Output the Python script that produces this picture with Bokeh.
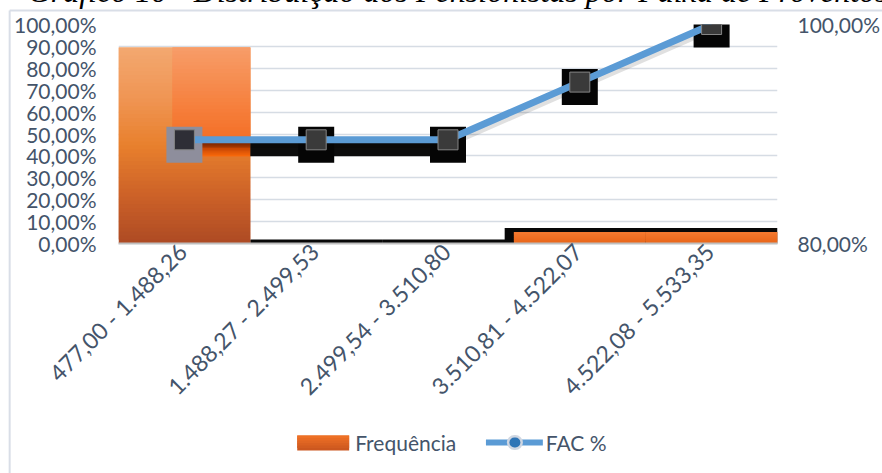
import math
from bokeh.plotting import figure
from bokeh.models import Range1d, LinearAxis, FixedTicker, ColumnDataSource
from bokeh.core.properties import value
from bokeh.embed import file_html
from bokeh.resources import INLINE

# ---------------- data ----------------
title_text = "Gráfico 10 - Distribuição dos Pensionistas por Faixa de Proventos"
categories = ["477,00 - 1.488,26", "1.488,27 - 2.499,53", "2.499,54 - 3.510,80",
              "3.510,81 - 4.522,07", "4.522,08 - 5.533,35"]
frequencia = [89.47, 0.0, 0.0, 5.26, 5.26]        # % (left axis)
fac = [89.47, 89.47, 89.47, 94.74, 100.0]          # % (right axis)
left_ticks = [0, 10, 20, 30, 40, 50, 60, 70, 80, 90, 100]
right_ticks = [80, 100]
legend_labels = ["Frequência", "FAC %"]

# ---------------- layout ----------------
W, H = 882, 473
FL, FR, FT, FB = 118, 778, 24, 243
N = len(categories)
TXT = "#44546A"
FONT = "Lato"


def pct(v):
    return ("%.2f" % v).replace(".", ",") + "%"


def dx(px):
    return (px - FL) / (FR - FL) * N


def dy(py):
    return (FB - py) / (FB - FT) * 100.0


def mix(stops, t):
    for (t0, c0), (t1, c1) in zip(stops[:-1], stops[1:]):
        if t <= t1:
            u = (t - t0) / (t1 - t0) if t1 > t0 else 0
            c = [round(a + (b - a) * u) for a, b in zip(c0, c1)]
            return "#%02x%02x%02x" % tuple(c)
    return "#%02x%02x%02x" % tuple(stops[-1][1])


def grad_quads(p, left, right, bottom, top, stops, n=40, **kw):
    """vertical colour gradient made of stacked slices (each slice overlaps the next)"""
    src = dict(l=[], r=[], b=[], t=[], c=[])
    step = (top - bottom) / n
    for k in range(n):
        b = bottom + step * k
        t = min(top, b + 2 * step)
        src["l"].append(left); src["r"].append(right)
        src["b"].append(b); src["t"].append(t)
        src["c"].append(mix(stops, (k + 0.5) / n))
    return p.quad(left="l", right="r", bottom="b", top="t", fill_color="c",
                  line_color=None, source=ColumnDataSource(src), **kw)


p = figure(width=W, height=H, x_range=Range1d(0, N), y_range=Range1d(0, 100),
           output_backend="svg", toolbar_location=None,
           min_border_left=FL, min_border_right=W - FR, min_border_top=FT,
           min_border_bottom=H - FB)
p.extra_y_ranges = {"fac": Range1d(80, 100)}
p.outline_line_color = None
p.background_fill_color = "white"
p.border_fill_color = "white"

# axes
LBL_SHIFT = -0.015
p.yaxis.ticker = FixedTicker(ticks=left_ticks)
p.yaxis.major_label_overrides = {t: pct(t) for t in left_ticks}
p.xaxis.ticker = FixedTicker(ticks=[i + 0.5 + LBL_SHIFT for i in range(N)])
p.xaxis.major_label_overrides = {i + 0.5 + LBL_SHIFT: c for i, c in enumerate(categories)}
p.xaxis.major_label_orientation = math.pi / 4
p.xaxis.axis_line_color = "#BFBFBF"
p.xaxis.axis_line_width = 2
p.xaxis.major_label_standoff = 4
p.yaxis.axis_line_color = None
p.yaxis.major_label_standoff = 22

rax = LinearAxis(y_range_name="fac", ticker=FixedTicker(ticks=right_ticks),
                 major_label_overrides={t: pct(t) for t in right_ticks})
rax.axis_line_color = None
rax.major_label_standoff = 20
p.add_layout(rax, "right")

for ax in [p.xaxis[0], p.yaxis[0], rax]:
    ax.major_tick_out = 0
    ax.major_tick_in = 0
    ax.minor_tick_out = 0
    ax.minor_tick_in = 0
    ax.major_label_text_font = FONT
    ax.major_label_text_font_size = "21px"
    ax.major_label_text_color = TXT
p.xaxis.major_label_text_font_size = "23px"

p.xgrid.visible = False
p.ygrid.ticker = FixedTicker(ticks=left_ticks[1:])
p.ygrid.grid_line_color = "#D6DCE4"
p.ygrid.grid_line_width = 1.5

# ---------------- bars ----------------
BIG = [(0, (173, 74, 36)), (0.25, (205, 98, 40)), (0.5, (232, 128, 45)),
       (0.75, (240, 150, 85)), (1, (243, 168, 112))]
SMALL = [(0, (232, 100, 24)), (1, (244, 122, 48))]
OVER = [(0, (243, 102, 26)), (0.5, (246, 130, 64)), (1, (247, 157, 105))]
BAND = [(0, (250, 106, 10)), (0.6, (200, 70, 5)), (1, (143, 42, 2))]
SWATCH = [(0, (200, 85, 30)), (1, (242, 114, 38))]

band_top = fac[0] - 0.3
band_bot = fac[0] - 1.5
to_left = lambda r: (r - 80) / 20 * 100

# black artefact strips under the small bars
blk = dict(l=[], r=[], b=[], t=[])
for i, v in enumerate(frequencia):
    if i == 0:
        continue
    blk["l"].append(i - (0.07 if v > 0 else 0)); blk["r"].append(i + 1)
    blk["b"].append(-0.3); blk["t"].append(v + 1.8)
p.quad(left="l", right="r", bottom="b", top="t", source=ColumnDataSource(blk),
       fill_color="#080808", line_color=None)

for i, v in enumerate(frequencia):
    if v <= 0:
        continue
    if v > 50:
        grad_quads(p, i, i + 1, 0, v, BIG, n=50)
        grad_quads(p, i + 0.41, i + 1, to_left(band_bot), v, OVER, n=30)
    else:
        grad_quads(p, i, i + 1, 0, v, SMALL, n=6)

# band (shadow) under the flat part of the line
grad_quads(p, 0.5, 1.0, band_bot, band_top, BAND, n=10, y_range_name="fac")
p.quad(left=[1.0], right=[2.5], bottom=[band_bot], top=[band_top],
       fill_color="#0c0c0c", line_color=None, y_range_name="fac")

# ---------------- FAC line ----------------
xs = [i + 0.5 for i in range(N)]
p.line(xs, [f - 0.35 for f in fac], line_color="black", line_alpha=0.12,
       line_width=8, y_range_name="fac")
outer_col = ["#8E8E9C"] + ["#050505"] * (N - 1)
inner_col = ["#2E2E36"] + ["#3A3A3A"] * (N - 1)
p.scatter(xs, [f - 0.45 for f in fac], marker="square", size=36,
          fill_color=outer_col, line_color=None, y_range_name="fac")
p.line(xs, fac, line_color="#5B9BD5", line_width=7, y_range_name="fac")
p.scatter(xs, fac, marker="square", size=20, fill_color=inner_col,
          line_color="#858585", line_width=1, y_range_name="fac")

# ---------------- legend (drawn below the axis labels) ----------------
LY = 442
grad_quads(p, dx(297), dx(349), dy(450), dy(435), SWATCH, n=6, level="overlay")
p.segment(x0=[dx(486)], y0=[dy(LY)], x1=[dx(543)], y1=[dy(LY)],
          line_color="#5B9BD5", line_width=6, level="overlay")
# legend marker: round-capped very short strokes (halo + dot)
p.segment(x0=[dx(514.5)], y0=[dy(LY)], x1=[dx(515.5)], y1=[dy(LY)],
          line_color="#D0D7E2", line_width=15, line_cap="round", level="overlay")
p.segment(x0=[dx(514.5)], y0=[dy(LY)], x1=[dx(515.5)], y1=[dy(LY)],
          line_color="#2E75B6", line_width=10, line_cap="round", level="overlay")
p.text(x=[dx(355), dx(546)], y=[dy(LY), dy(LY)], text=legend_labels,
       text_font=value(FONT), text_font_size="21px", text_color=TXT,
       text_align="left", text_baseline="middle", level="overlay")

# ---------------- chart border and (cut) title ----------------
p.segment(x0=[dx(9), dx(9)], y0=[dy(10), dy(10)], x1=[dx(9), dx(900)],
          y1=[dy(500), dy(10)], line_color="#D9DEE7", line_width=2, level="overlay")
p.text(x=[dx(27)], y=[dy(-10)], text=[title_text], text_font=value("Liberation Serif"),
       text_font_style="italic", text_font_size="32px", text_color="black",
       text_align="left", text_baseline="alphabetic", level="overlay")

open("out.html", "w").write(file_html(p, INLINE))
